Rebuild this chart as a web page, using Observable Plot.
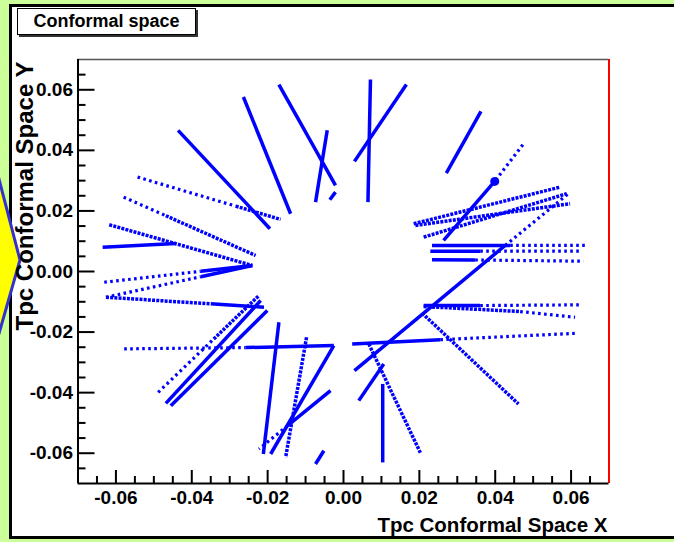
<!DOCTYPE html>
<html><head><meta charset="utf-8">
<script src="https://cdn.jsdelivr.net/npm/d3@7"></script>
<script src="https://cdn.jsdelivr.net/npm/@observablehq/plot@0.6"></script>
<style>
html,body{margin:0;padding:0;overflow:hidden;}
#wrap{width:674px;height:542px;overflow:hidden;position:relative;background:#ccff99;font-family:"Liberation Sans",Arial,Helvetica,sans-serif;}
#panel{position:absolute;left:9px;top:4px;width:720px;height:529px;border:3px solid #000;background:#fff;}
#arrow{position:absolute;left:0;top:0;width:60px;height:542px;}
#title{position:absolute;left:17px;top:8px;width:179px;height:27px;box-sizing:border-box;border:1px solid #000;background:#fff;box-shadow:2px 2px 0 #333;display:flex;align-items:center;justify-content:center;font-weight:bold;font-size:18px;color:#000;}
#chart{position:absolute;left:0;top:0;}
</style></head>
<body>
<div id="wrap">
<div id="panel"></div>
<svg id="arrow" viewBox="0 0 60 542"><polygon points="-10,144.5 20,260 -10,365" fill="#ffff00" stroke="#3333cc" stroke-width="3"/></svg>
<div id="title">Conformal space</div>
<div id="chart"></div>
</div>
<script>
// Track segments in conformal space (x1,y1)-(x2,y2); style: d = dense hits, m = medium, s = sparse
const segX1 = [-0.01703,-0.00429,-0.00211,-0.02639,-0.04361,-0.05429,-0.02842,-0.05797,-0.04684,-0.06176,-0.0635,-0.06308,-0.03763,-0.06263,-0.03763,-0.06263,-0.035,-0.04887,-0.03421,-0.04684,-0.04553,-0.05782,-0.02579,-0.01703,-0.00974,-0.00255,-0.00342,-0.01474,-0.00737,0.00711,0.01658,0.03624,0.04729,0.03987,0.0185,0.01895,0.02113,0.00289,0.04263,0.02334,0.04395,0.02289,0.03605,0.02334,0.03474,0.02113,0.03605,0.02113,0.04658,0.02071,0.00229,0.02553,0.01034,0.00666,0.00403];
const segY1 = [0.06172,0.04661,0.02621,0.05762,0.04661,0.03117,0.02159,0.02456,0.01841,0.01544,0.00803,-0.00354,0.00007,-0.0085,-0.00172,-0.0085,-0.01068,-0.0399,-0.02228,-0.04354,-0.0443,-0.02555,-0.02512,-0.01676,-0.02172,-0.02446,-0.03934,-0.05091,-0.06357,0.06337,0.06172,0.05289,0.04188,0.02975,0.01577,0.01521,0.01134,-0.03273,0.0086,0.0086,0.0086,0.00671,0.00671,0.00387,0.0038,-0.01124,-0.01124,-0.01157,-0.01322,-0.01372,-0.0239,-0.02251,-0.03712,-0.0239,-0.04264];
const segX2 = [-0.00211,-0.00737,-0.00361,-0.01395,-0.01939,-0.02842,-0.01658,-0.04684,-0.02316,-0.02403,-0.04421,-0.03763,-0.02403,-0.03763,-0.02403,-0.035,-0.02097,-0.03421,-0.02229,-0.02184,-0.02008,-0.02579,-0.00255,-0.02113,-0.01526,-0.01921,-0.01474,-0.02229,-0.00518,0.00645,0.00289,0.02711,0.03987,0.02639,0.05711,0.05974,0.05887,0.04263,0.05929,0.04395,0.06368,0.03605,0.06282,0.03474,0.06324,0.03605,0.06237,0.04658,0.06105,0.04613,0.02553,0.0615,0.01034,0.02026,0.01061];
const segY2 = [0.02843,0.02291,0.0237,0.01907,0.01412,0.02159,0.01719,0.01841,0.00529,0.00198,0.00926,0.00007,0.00198,-0.00172,0.00198,-0.01068,-0.0118,-0.02228,-0.00793,-0.00959,-0.01289,-0.02512,-0.02446,-0.06026,-0.06139,-0.06026,-0.05091,-0.05861,-0.05917,0.02291,0.03636,0.0325,0.02975,0.01025,0.02787,0.02238,0.02569,0.0086,0.02569,0.0086,0.0086,0.00671,0.00671,0.0038,0.0034,-0.01124,-0.01101,-0.01322,-0.01511,-0.04374,-0.02251,-0.0204,-0.06304,-0.05983,-0.03051];
const segStyle = ["d","d","d","d","d","s","m","s","m","m","d","s","d","s","d","m","d","s","m","d","d","s","d","d","m","d","d","s","d","d","d","d","s","d","m","m","m","d","s","d","s","d","s","d","s","d","s","m","s","m","d","s","d","m","d"];
// Big hit marker
const dotX = [0.03987];
const dotY = [0.02975];
// Axis ticks
const xMajor = [-0.06,-0.04,-0.02,0,0.02,0.04,0.06];
const yMajor = [-0.06,-0.04,-0.02,0,0.02,0.04,0.06];
const xMinor = [-0.065,-0.055,-0.05,-0.045,-0.035,-0.03,-0.025,-0.015,-0.01,-0.005,0.005,0.01,0.015,0.025,0.03,0.035,0.045,0.05,0.055,0.065];
const yMinor = [-0.065,-0.055,-0.05,-0.045,-0.035,-0.03,-0.025,-0.015,-0.01,-0.005,0.005,0.01,0.015,0.025,0.03,0.035,0.045,0.05,0.055,0.065];

const segs = segX1.map((x, i) => ({x1: x, y1: segY1[i], x2: segX2[i], y2: segY2[i], s: segStyle[i]}));
const dots = dotX.map((x, i) => ({x, y: dotY[i]}));
const fmt = d => d.toFixed(2);
const W = 674, H = 542, ML = 77.5, MR = 65.5, MT = 59, MB = 59;
const FW = W - ML - MR, FH = H - MT - MB;
const blue = "#0000ff";
const font = "Liberation Sans, Arial, Helvetica, sans-serif";
const segLinks = (s, w, dash) => Plot.link(segs.filter(d => d.s === s), {x1: "x1", y1: "y1", x2: "x2", y2: "y2", stroke: blue, strokeWidth: w, strokeDasharray: dash});

const chart = Plot.plot({
  width: W, height: H,
  marginLeft: ML, marginRight: MR, marginTop: MT, marginBottom: MB,
  x: {domain: [-0.07, 0.07], axis: null},
  y: {domain: [-0.07, 0.07], axis: null},
  style: {background: "transparent", overflow: "visible", fontFamily: font},
  marks: [
    Plot.ruleY([0.07], {stroke: "#555", strokeWidth: 1.5}),
    Plot.ruleX([0.07], {stroke: "#ff0000", strokeWidth: 2}),
    segLinks("d", 3.5, null),
    segLinks("m", 3.5, "3,1.2"),
    segLinks("s", 3.2, "2.6,3.4"),
    Plot.dot(dots, {x: "x", y: "y", r: 4.5, fill: blue}),
    Plot.ruleX([-0.07], {stroke: "#000", strokeWidth: 2}),
    Plot.ruleY([-0.07], {stroke: "#000", strokeWidth: 2}),
    Plot.tickY(yMajor, {y: d => d, insetRight: FW - 17, stroke: "#000", strokeWidth: 2}),
    Plot.tickY(yMinor, {y: d => d, insetRight: FW - 8, stroke: "#000", strokeWidth: 2}),
    Plot.tickX(xMajor, {x: d => d, insetTop: FH - 13, stroke: "#000", strokeWidth: 2}),
    Plot.tickX(xMinor, {x: d => d, insetTop: FH - 7, stroke: "#000", strokeWidth: 2}),
    Plot.text(xMajor, {x: d => d, frameAnchor: "bottom", lineAnchor: "top", dy: 7, text: fmt, fontSize: 19, fontWeight: "bold"}),
    Plot.text(yMajor, {y: d => d, frameAnchor: "left", textAnchor: "end", lineAnchor: "middle", dx: -5, text: fmt, fontSize: 19, fontWeight: "bold"}),
    Plot.text(["Tpc Conformal Space X"], {frameAnchor: "bottom-right", textAnchor: "end", lineAnchor: "middle", dx: -1.5, dy: 41.5, text: d => d, fontSize: 20.5, fontWeight: "bold"}),
    Plot.text(["Tpc Conformal Space Y"], {frameAnchor: "top-left", textAnchor: "end", lineAnchor: "middle", rotate: -90, dx: -52.5, dy: 2, text: d => d, fontSize: 24, fontWeight: "bold"})
  ]
});
document.getElementById("chart").appendChild(chart);
</script>
</body></html>
